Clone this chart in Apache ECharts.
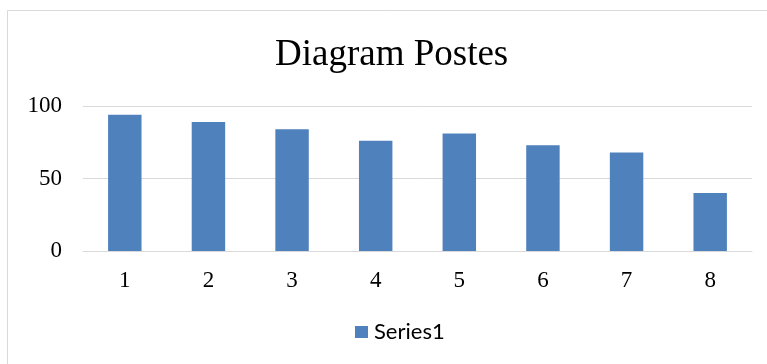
<!DOCTYPE html>
<html>
<head>
<meta charset="utf-8">
<script src="https://cdn.jsdelivr.net/npm/echarts@6/dist/echarts.min.js"></script>
<style>
  html, body { margin: 0; padding: 0; background: #fff; }
  #chart { width: 767px; height: 364px; }
</style>
</head>
<body>
<div id="chart"></div>
<script>
const categories = ['1', '2', '3', '4', '5', '6', '7', '8'];
const series1 = [94, 89, 84, 76, 81, 73, 68, 40];
const yTicks = [0, 50, 100];

const chart = echarts.init(document.getElementById('chart'));

const option = {
  backgroundColor: '#fff',
  animation: false,
  title: {
    text: 'Diagram Postes',
    left: 275,
    top: 37,
    padding: 0,
    textStyle: {
      fontFamily: 'Liberation Serif',
      fontSize: 37,
      fontWeight: 'normal',
      color: '#000'
    }
  },
  legend: {
    data: ['Series1'],
    left: 355,
    top: 321,
    padding: 0,
    icon: 'rect',
    itemWidth: 13,
    itemHeight: 12,
    itemGap: 6,
    textStyle: {
      fontFamily: 'Lato',
      fontSize: 22,
      color: '#000',
      padding: [0, 0, 0, 1]
    }
  },
  grid: {
    left: 83,
    right: 15,
    top: 106,
    bottom: 113,
    containLabel: false
  },
  xAxis: {
    type: 'category',
    data: categories,
    axisTick: { show: false },
    axisLine: { lineStyle: { color: '#d9d9d9', width: 1 } },
    axisLabel: {
      margin: 18,
      fontFamily: 'Liberation Serif',
      fontSize: 23,
      color: '#000'
    }
  },
  yAxis: {
    type: 'value',
    min: yTicks[0],
    max: yTicks[yTicks.length - 1],
    interval: 50,
    axisLine: { show: false },
    axisTick: { show: false },
    splitLine: { lineStyle: { color: '#d9d9d9', width: 1 } },
    axisLabel: {
      margin: 21,
      fontFamily: 'Liberation Serif',
      fontSize: 23,
      color: '#000'
    }
  },
  graphic: [
    {
      type: 'polyline',
      shape: { points: [[7.5, 364], [7.5, 10.5], [767, 10.5]] },
      style: { stroke: '#d9d9d9', lineWidth: 1, fill: null },
      silent: true
    }
  ],
  series: [
    {
      name: 'Series1',
      type: 'bar',
      data: series1,
      barWidth: '40%',
      itemStyle: { color: '#4f81bd' }
    }
  ]
};

chart.setOption(option);
</script>
</body>
</html>
